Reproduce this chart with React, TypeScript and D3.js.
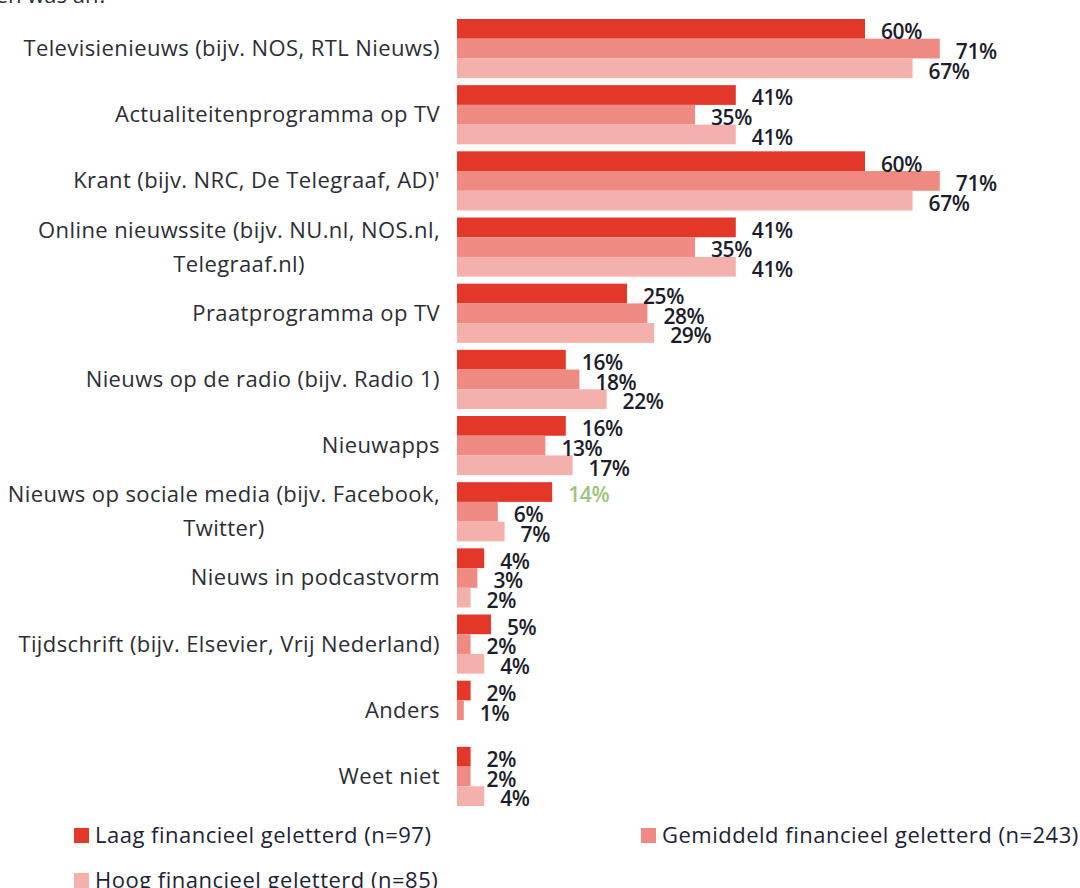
import { useEffect, useRef } from 'react';
import * as d3 from 'd3';

const categories = [
  'Televisienieuws (bijv. NOS, RTL Nieuws)',
  'Actualiteitenprogramma op TV',
  "Krant (bijv. NRC, De Telegraaf, AD)'",
  'Online nieuwssite (bijv. NU.nl, NOS.nl,|Telegraaf.nl)',
  'Praatprogramma op TV',
  'Nieuws op de radio (bijv. Radio 1)',
  'Nieuwapps',
  'Nieuws op sociale media (bijv. Facebook,|Twitter)',
  'Nieuws in podcastvorm',
  'Tijdschrift (bijv. Elsevier, Vrij Nederland)',
  'Anders',
  'Weet niet',
];

const laag = [60, 41, 60, 41, 25, 16, 16, 14, 4, 5, 2, 2];
const gemiddeld = [71, 35, 71, 35, 28, 18, 13, 6, 3, 2, 1, 2];
const hoog: (number | null)[] = [67, 41, 67, 41, 29, 22, 17, 7, 2, 4, null, 4];

const seriesNames = [
  'Laag financieel geletterd (n=97)',
  'Gemiddeld financieel geletterd (n=243)',
  'Hoog financieel geletterd (n=85)',
];

const colors = ['#e3372a', '#ef8a82', '#f4b0aa'];
const FONT = '"Open Sans", Lato, sans-serif';

export default function App() {
  const svgRef = useRef<SVGSVGElement>(null);

  useEffect(() => {
    if (!svgRef.current) return;
    const width = 1080;
    const height = 888;
    const svg = d3.select(svgRef.current);
    svg.selectAll('*').remove();
    svg.attr('width', width).attr('height', height);

    const values = [laag, gemiddeld, hoog];

    const x = d3.scaleLinear().domain([0, 100]).range([457, 1137]);
    const y = d3.scaleBand().domain(categories).range([19, 806]).paddingInner(0.106);
    const ySub = d3.scaleBand<number>().domain([0, 1, 2]).range([0, y.bandwidth()]);

    // cropped question text at the very top
    svg.append('text')
      .attr('x', 108).attr('y', 3)
      .attr('text-anchor', 'end')
      .attr('font-family', FONT).attr('font-size', 22)
      .attr('fill', '#2d2d35')
      .text('en was an?');

    const groups = svg.selectAll('.group')
      .data(categories)
      .join('g')
      .attr('class', 'group')
      .attr('transform', d => `translate(0,${y(d)})`);

    groups.each(function (cat, i) {
      const g = d3.select(this);
      const rows = [0, 1, 2]
        .map(s => ({ s, v: values[s][i] }))
        .filter(r => r.v !== null) as { s: number; v: number }[];

      g.selectAll('rect')
        .data(rows)
        .join('rect')
        .attr('x', x(0))
        .attr('y', r => ySub(r.s)!)
        .attr('width', r => x(r.v) - x(0))
        .attr('height', ySub.bandwidth())
        .attr('fill', r => colors[r.s]);

      // the 14% label is highlighted in green in the source
      g.selectAll('text.val')
        .data(rows)
        .join('text')
        .attr('class', 'val')
        .attr('x', r => x(r.v) + 16)
        .attr('y', r => ySub(r.s)! + ySub.bandwidth() + 0.5)
        .attr('font-family', FONT)
        .attr('font-size', 21)
        .attr('font-weight', 600)
        .attr('letter-spacing', -0.4)
        .attr('fill', r => (i === 7 && r.s === 0 ? '#9cc47f' : '#1c1c2b'))
        .text(r => `${r.v}%`);

      // category label, right aligned; a second line is centred under the first
      const lines = cat.split('|');
      const mid = y.bandwidth() / 2 + 7.5;
      const spacing = 34;
      const first = g.append('text')
        .attr('x', 440)
        .attr('y', mid - ((lines.length - 1) * spacing) / 2)
        .attr('text-anchor', 'end')
        .attr('font-family', FONT)
        .attr('font-size', 22)
        .attr('letter-spacing', 0.4)
        .attr('fill', '#2d2d35')
        .text(lines[0]);
      if (lines.length > 1) {
        const w = (first.node() as SVGTextElement).getComputedTextLength();
        g.append('text')
          .attr('x', 440 - w / 2)
          .attr('y', mid + spacing / 2)
          .attr('text-anchor', 'middle')
          .attr('font-family', FONT)
          .attr('font-size', 22)
          .attr('letter-spacing', 0.4)
          .attr('fill', '#2d2d35')
          .text(lines[1]);
      }
    });

    // legend
    const legendPos = [
      { x: 74, y: 843 },
      { x: 641, y: 843 },
      { x: 74, y: 888 },
    ];
    const legend = svg.selectAll('.legend')
      .data(seriesNames)
      .join('g')
      .attr('class', 'legend')
      .attr('transform', (_, i) => `translate(${legendPos[i].x},${legendPos[i].y})`);
    legend.append('rect')
      .attr('x', 0).attr('y', -15)
      .attr('width', 15).attr('height', 15)
      .attr('fill', (_, i) => colors[i]);
    legend.append('text')
      .attr('x', 21).attr('y', 0)
      .attr('font-family', FONT)
      .attr('font-size', 22)
      .attr('letter-spacing', 0.5)
      .attr('fill', '#1e2235')
      .text(d => d);
  }, []);

  return (
    <div style={{ position: 'absolute', left: 0, top: 0, width: 1080, height: 888, overflow: 'hidden', background: '#fff' }}>
      <svg ref={svgRef} style={{ display: 'block' }} />
    </div>
  );
}
